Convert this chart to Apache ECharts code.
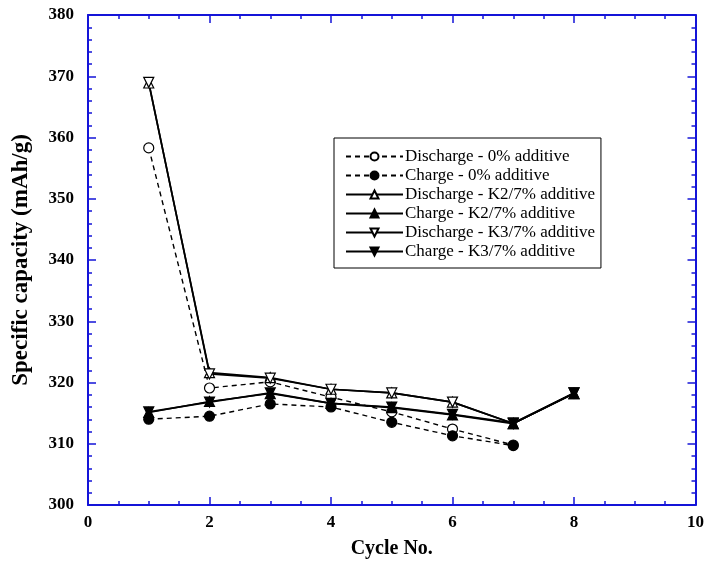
<!DOCTYPE html>
<html>
<head>
<meta charset="utf-8">
<script src="https://cdn.jsdelivr.net/npm/echarts@6/dist/echarts.min.js"></script>
<style>
html,body{margin:0;padding:0;background:#fff;}
#c{width:707px;height:564px;}
</style>
</head>
<body>
<div id="c"></div>
<script>
// ---- data ----
const cycles0 = [1, 2, 3, 4, 5, 6, 7];
const cyclesK = [1, 2, 3, 4, 5, 6, 7, 8];
const discharge0 = [358.3, 319.1, 320.1, 317.6, 315.2, 312.4, 309.8];
const charge0 = [314.0, 314.5, 316.5, 316.0, 313.5, 311.3, 309.7];
const dischargeK2 = [368.9, 321.6, 320.8, 318.9, 318.3, 316.8, 313.3, 318.2];
const chargeK2 = [315.1, 316.9, 318.2, 316.6, 315.9, 314.7, 313.3, 318.2];
const dischargeK3 = [369.0, 321.4, 320.7, 318.9, 318.3, 316.8, 313.3, 318.3];
const chargeK3 = [315.2, 316.8, 318.3, 316.6, 316.0, 314.8, 313.4, 318.3];
const seriesNames = [
  'Discharge - 0% additive',
  'Charge - 0% additive',
  'Discharge - K2/7% additive',
  'Charge - K2/7% additive',
  'Discharge - K3/7% additive',
  'Charge - K3/7% additive'
];

const blue = '#1414d8';
const font = '"Liberation Serif", "Times New Roman", serif';
const pair = (xs, ys) => xs.map((x, i) => [x, ys[i]]);

function mkSeries(name, xs, ys, opt) {
  return {
    name: name,
    type: 'line',
    xAxisIndex: 0, yAxisIndex: 0,
    data: pair(xs, ys),
    symbol: opt.symbol,
    symbolSize: opt.size || 10,
    symbolRotate: opt.rotate || 0,
    showAllSymbol: true,
    smooth: false,
    z: opt.z || 2,
    lineStyle: { color: '#000', width: opt.dashed ? 1.4 : 1.7, type: opt.dashed ? [5, 4] : 'solid' },
    itemStyle: { color: opt.filled ? '#000' : '#fff', borderColor: '#000', borderWidth: 1.2 },
    emphasis: { disabled: true },
    animation: false
  };
}

const chart = echarts.init(document.getElementById('c'), null, { renderer: 'canvas' });
const axisCommon = {
  axisLine: { show: true, onZero: false, lineStyle: { color: blue, width: 2 } },
  axisTick: { show: true, inside: true, length: 8, lineStyle: { color: blue, width: 1.5 } },
  minorTick: { show: true, length: 4, lineStyle: { color: blue, width: 1.5 } },
  splitLine: { show: false }
};

chart.setOption({
  backgroundColor: '#fff',
  animation: false,
  grid: { left: 88, right: 9, top: 15, bottom: 59, containLabel: false },
  legend: {
    orient: 'vertical',
    left: 334, top: 138,
    itemWidth: 57, itemHeight: 10,
    itemGap: 2,
    padding: [10, 6, 8, 11],
    borderColor: '#000', borderWidth: 1,
    backgroundColor: '#fff',
    data: seriesNames,
    textStyle: { fontFamily: font, fontSize: 17, color: '#000', padding: [0, 0, 0, -3] },
    selectedMode: false
  },
  xAxis: [
    Object.assign({}, axisCommon, {
      type: 'value', min: 0, max: 10, interval: 2,
      minorTick: Object.assign({}, axisCommon.minorTick, { splitNumber: 4 }),
      position: 'bottom',
      name: 'Cycle No.', nameLocation: 'middle', nameGap: 34,
      nameTextStyle: { fontFamily: font, fontSize: 20, fontWeight: 'bold', color: '#000' },
      axisLabel: { fontFamily: font, fontSize: 17, fontWeight: 'bold', color: '#000', margin: 9 }
    }),
    Object.assign({}, axisCommon, {
      type: 'value', min: 0, max: 10, interval: 2,
      minorTick: Object.assign({}, axisCommon.minorTick, { splitNumber: 4 }),
      position: 'top',
      axisLabel: { show: false }
    })
  ],
  yAxis: [
    Object.assign({}, axisCommon, {
      type: 'value', min: 300, max: 380, interval: 10,
      minorTick: Object.assign({}, axisCommon.minorTick, { splitNumber: 5 }),
      position: 'left',
      name: 'Specific capacity (mAh/g)', nameLocation: 'middle', nameGap: 55, nameRotate: 90,
      nameTextStyle: { fontFamily: font, fontSize: 23, fontWeight: 'bold', color: '#000' },
      axisLabel: { fontFamily: font, fontSize: 17, fontWeight: 'bold', color: '#000', margin: 14, padding: [6, 0, 0, 0] }
    }),
    Object.assign({}, axisCommon, {
      type: 'value', min: 300, max: 380, interval: 10,
      minorTick: Object.assign({}, axisCommon.minorTick, { splitNumber: 5 }),
      position: 'right',
      axisLabel: { show: false }
    })
  ],
  series: [
    mkSeries(seriesNames[0], cycles0, discharge0, { symbol: 'circle', filled: false, dashed: true }),
    mkSeries(seriesNames[1], cycles0, charge0, { symbol: 'circle', filled: true, dashed: true }),
    mkSeries(seriesNames[2], cyclesK, dischargeK2, { symbol: 'triangle', filled: false, z: 3 }),
    mkSeries(seriesNames[3], cyclesK, chargeK2, { symbol: 'triangle', filled: true, z: 3 }),
    mkSeries(seriesNames[4], cyclesK, dischargeK3, { symbol: 'triangle', rotate: 180, filled: false, z: 3 }),
    mkSeries(seriesNames[5], cyclesK, chargeK3, { symbol: 'triangle', rotate: 180, filled: true, z: 3 })
  ]
});
</script>
</body>
</html>
